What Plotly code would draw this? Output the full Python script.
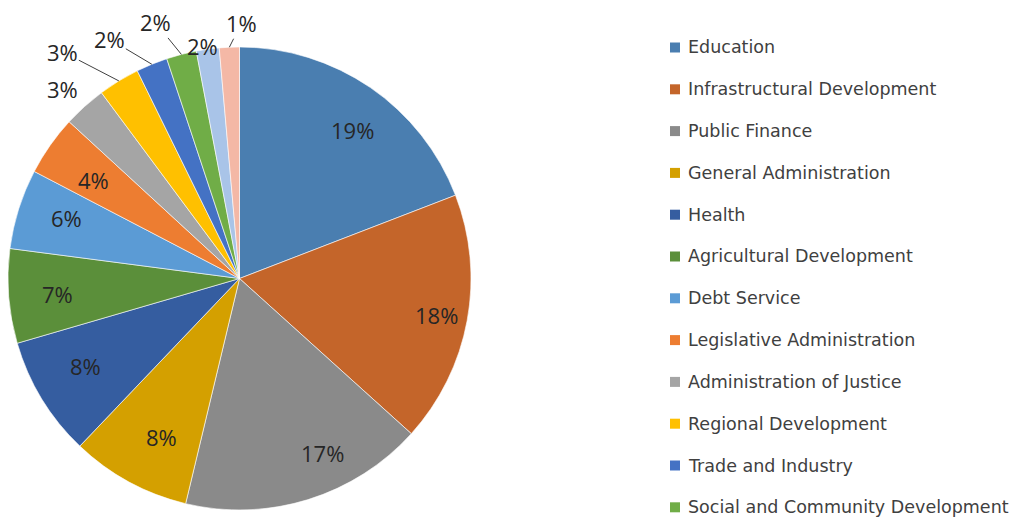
import math
import plotly.graph_objects as go

# data
SECTORS = [
    "Education", "Infrastructural Development", "Public Finance",
    "General Administration", "Health", "Agricultural Development",
    "Debt Service", "Legislative Administration", "Administration of Justice",
    "Regional Development", "Trade and Industry", "Social and Community Development",
    "Other Services", "Miscellaneous",
]
SHARES = [19.2, 17.6, 17.1, 8.4, 8.4, 6.6, 5.6, 4.2, 3.0, 2.9, 2.2, 2.1, 1.6, 1.4]
COLORS = [
    "#4A7EB0", "#C4652A", "#8A8A8A", "#D4A000", "#355DA0", "#5B8F3A",
    "#5B9BD5", "#ED7D31", "#A5A5A5", "#FFC000", "#4472C4", "#70AD47",
    "#A9C4E8", "#F4B8A6",
]
N_LEGEND = 12  # only the first 12 entries fit in the legend area

# the page body has an 8px margin, so the figure is drawn 8px in from the window
OFF = 8
W, H = 1014, 512
ML, MR, MT, MB = 0, 0, 39, 10
PW, PH = W - ML - MR, H - MT - MB
R = PH / 2
CX, CY = OFF + ML + R, OFF + MT + R   # window pixels

LABEL_COLOR = "#262626"
TEXT_COLOR = "#404040"
FONT = "Open Sans"
LEG_FONT = "DejaVu Sans"

# outside labels: offset of the text from the slice edge (px), leader line or not
OUTSIDE = {
    8: (-22, -17, False),
    9: (-56, -29, True),
    10: (-42, -25, True),
    11: (-26, -32, True),
    12: (-5, -3, False),
    13: (12, -24, True),
}


def px_to_paper(x, y):
    # window pixels -> paper coordinates
    return (x - OFF - ML) / PW, 1 - (y - OFF - MT) / PH


fig = go.Figure(go.Pie(
    labels=SECTORS, values=SHARES,
    marker=dict(colors=COLORS, line=dict(color="white", width=0.6)),
    sort=False, direction="clockwise", rotation=0,
    textinfo="none", hoverinfo="label+percent",
    domain=dict(x=[0, 2 * R / PW], y=[0, 1]),
    showlegend=False,
))

# percent labels, placed along each slice's mid angle
total = sum(SHARES)
annotations = []
cum = 0
for i, v in enumerate(SHARES):
    mid = (cum + v / 2) / total * 2 * math.pi
    cum += v
    txt = f"{round(v / total * 100)}%"
    if i in OUTSIDE:
        dx, dy, line = OUTSIDE[i]
        ex, ey = CX + R * math.sin(mid), CY - R * math.cos(mid)
        x, y = px_to_paper(ex, ey)
        annotations.append(dict(
            x=x, y=y, xref="paper", yref="paper", text=txt,
            showarrow=True, arrowhead=0, arrowwidth=1,
            arrowcolor=TEXT_COLOR if line else "rgba(0,0,0,0)",
            ax=dx, ay=dy, standoff=0, startstandoff=0, borderpad=0,
            font=dict(family=FONT, size=22, color=LABEL_COLOR),
        ))
    else:
        rr = 0.865 * R
        x, y = px_to_paper(CX + rr * math.sin(mid), CY - rr * math.cos(mid))
        annotations.append(dict(
            x=x, y=y, xref="paper", yref="paper", text=txt, showarrow=False,
            font=dict(family=FONT, size=22, color=LABEL_COLOR),
        ))

# legend drawn by hand so that it can stop after 12 entries
shapes = []
LEG_X, LEG_Y0, LEG_STEP, SQ = 670, 47.5, 41.8, 10
for i in range(N_LEGEND):
    yc = LEG_Y0 + i * LEG_STEP
    x0, y0 = px_to_paper(LEG_X, yc + SQ / 2)
    x1, y1 = px_to_paper(LEG_X + SQ, yc - SQ / 2)
    shapes.append(dict(type="rect", xref="paper", yref="paper",
                       x0=x0, y0=y0, x1=x1, y1=y1,
                       fillcolor=COLORS[i], line=dict(width=0)))
    tx, ty = px_to_paper(LEG_X + SQ + 6, yc)
    annotations.append(dict(
        x=tx, y=ty, xref="paper", yref="paper", text=SECTORS[i],
        showarrow=False, xanchor="left", yanchor="middle",
        font=dict(family=LEG_FONT, size=17.5, color=TEXT_COLOR),
    ))

fig.update_layout(
    width=W, height=H,
    margin=dict(l=ML, r=MR, t=MT, b=MB),
    paper_bgcolor="white", plot_bgcolor="white",
    annotations=annotations, shapes=shapes,
)

fig.write_html("out.html")
